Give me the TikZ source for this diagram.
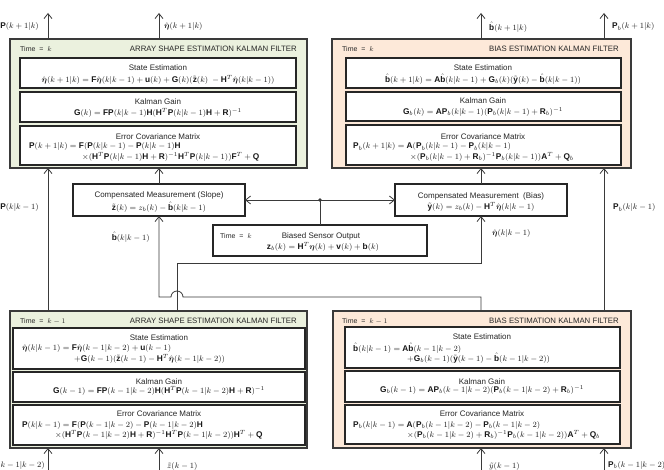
\documentclass[tikz,border=0pt]{standalone}
\usepackage{fontspec}
\setmainfont{Liberation Sans}
\usepackage{amsmath}
\usetikzlibrary{arrows.meta}
\definecolor{pgreen}{HTML}{EBF1DE}
\definecolor{porange}{HTML}{FDE9D9}
\definecolor{lc}{HTML}{3A3A3A}
\newcommand\hEta{\hat{\boldsymbol{\eta}}}
\newcommand\hB{\hat{\mathbf{b}}}
\newcommand\tZ{\tilde{\mathbf{z}}}
\newcommand\tY{\tilde{\mathbf{y}}}
\newcommand\bfm[1]{\mathbf{#1}}
\newcommand\mkbox[6]{\node[#6, minimum width={(#4)-(#2)}, minimum height={(#5)-(#3)}] (#1) at (#2,-#3) {};}
\begin{document}
\begin{tikzpicture}[x=1pt,y=1pt,
 panel/.style={draw=lc, line width=1.2pt, anchor=north west, inner sep=0pt, outer sep=0pt},
 ibox/.style={draw=black!85, line width=1.2pt, fill=white, anchor=north west, inner sep=0pt, outer sep=0pt},
 txt/.style={inner sep=0pt, font=\fontsize{8}{9}\selectfont, text=black!85},
 ttl/.style={inner sep=0pt, font=\fontsize{7.8}{9}\selectfont, text=black!85},
 tim/.style={inner sep=0pt, font=\fontsize{7}{8}\selectfont, text=black!85},
 mth/.style={inner sep=0pt, font=\fontsize{8.3}{10}\selectfont, text=black!90},
 conn/.style={draw=lc, line width=0.8pt},
 arr/.style={conn, -{Straight Barb[length=5pt,width=8pt]}},
]
\useasboundingbox (0,0) rectangle (664,-470);
\fill[white] (0,0) rectangle (664,-470);

% ---------- panels ----------
\mkbox{TL}{10}{39}{307}{168}{panel, fill=pgreen}
\mkbox{TR}{332}{39}{631}{168}{panel, fill=porange}
\mkbox{BL}{10}{311}{307}{448}{panel, fill=pgreen}
\mkbox{BR}{333}{311}{631}{448}{panel, fill=porange}

% inner boxes top-left
\mkbox{TLs}{20}{58}{296}{88}{ibox}
\mkbox{TLg}{20}{92}{296}{122}{ibox}
\mkbox{TLe}{20}{126}{296}{165}{ibox}
% inner boxes top-right
\mkbox{TRs}{346}{58}{621}{88}{ibox}
\mkbox{TRg}{346}{92}{621}{121}{ibox}
\mkbox{TRe}{346}{125}{621}{165}{ibox}
% inner boxes bottom-left
\mkbox{BLs}{13}{328}{305}{369}{ibox}
\mkbox{BLg}{13}{372}{305}{402}{ibox}
\mkbox{BLe}{13}{405}{305}{445}{ibox}
% inner boxes bottom-right
\mkbox{BRs}{345}{327}{620}{368}{ibox}
\mkbox{BRg}{345}{371}{620}{402}{ibox}
\mkbox{BRe}{345}{405}{620}{444}{ibox}
% middle boxes
\mkbox{SL}{73}{184}{245}{216}{ibox}
\mkbox{BI}{395}{184}{567}{216}{ibox}
\mkbox{SE}{213}{225}{427}{256}{ibox}

% ---------- panel titles ----------
\node[tim, anchor=west] (tTL) at (20,-49) {Time \ = \ $k$};
\node[ttl, anchor=east] (hTL) at (297,-49) {ARRAY SHAPE ESTIMATION KALMAN FILTER};
\node[tim, anchor=west] (tTR) at (342,-49) {Time \ = \ $k$};
\node[ttl, anchor=east] (hTR) at (619,-49) {BIAS ESTIMATION KALMAN FILTER};
\node[tim, anchor=west] (tBL) at (20,-321) {Time \ = \ $k-1$};
\node[ttl, anchor=east] (hBL) at (297,-321) {ARRAY SHAPE ESTIMATION KALMAN FILTER};
\node[tim, anchor=west] (tBR) at (342,-321) {Time \ = \ $k-1$};
\node[ttl, anchor=east] (hBR) at (619,-321) {BIAS ESTIMATION KALMAN FILTER};

% ---------- top-left contents ----------
\node[txt] (a1) at (158,-68) {State Estimation};
\node[mth] (a2) at (158,-80) {$\hEta(k+1|k)=\bfm{F}\hEta(k|k-1)+\bfm{u}(k)+\bfm{G}(k)(\tZ(k)\ -\bfm{H}^T\hEta(k|k-1))$};
\node[txt] (a3) at (158,-102) {Kalman Gain};
\node[mth] (a4) at (158,-113) {$\bfm{G}(k)=\bfm{FP}(k|k-1)\bfm{H}(\bfm{H}^T\bfm{P}(k|k-1)\bfm{H}+\bfm{R})^{-1}$};
\node[txt] (a5) at (158,-137) {Error Covariance Matrix};
\node[mth, anchor=west] (a6) at (29,-147) {$\bfm{P}(k+1|k)=\bfm{F}(\bfm{P}(k|k-1)-\bfm{P}(k|k-1)\bfm{H}$};
\node[mth, anchor=west] (a7) at (82,-157) {$\times(\bfm{H}^T\bfm{P}(k|k-1)\bfm{H}+\bfm{R})^{-1}\bfm{H}^T\bfm{P}(k|k-1))\bfm{F}^T+\bfm{Q}$};

% ---------- top-right contents ----------
\node[txt] (b1) at (483,-68) {State Estimation};
\node[mth] (b2) at (483,-79) {$\hB(k+1|k)=\bfm{A}\hB(k|k-1)+\bfm{G}_b(k)(\tY(k)-\hB(k|k-1))$};
\node[txt] (b3) at (483,-101) {Kalman Gain};
\node[mth] (b4) at (483,-112) {$\bfm{G}_b(k)=\bfm{AP}_b(k|k-1)(\bfm{P}_b(k|k-1)+\bfm{R}_b)^{-1}$};
\node[txt] (b5) at (483,-137) {Error Covariance Matrix};
\node[mth, anchor=west] (b6) at (353,-147) {$\bfm{P}_b(k+1|k)=\bfm{A}(\bfm{P}_b(k|k-1)-\bfm{P}_b(k|k-1)$};
\node[mth, anchor=west] (b7) at (410,-157) {$\times(\bfm{P}_b(k|k-1)+\bfm{R}_b)^{-1}\bfm{P}_b(k|k-1))\bfm{A}^T+\bfm{Q}_b$};

% ---------- bottom-left contents ----------
\node[txt] (c1) at (159,-338) {State Estimation};
\node[mth, anchor=west] (c2) at (22,-349) {$\hEta(k|k-1)=\bfm{F}\hEta(k-1|k-2)+\bfm{u}(k-1)$};
\node[mth, anchor=west] (c3) at (74,-359) {$+\bfm{G}(k-1)(\tZ(k-1)-\bfm{H}^T\hEta(k-1|k-2))$};
\node[txt] (c4) at (159,-382) {Kalman Gain};
\node[mth] (c5) at (159,-391) {$\bfm{G}(k-1)=\bfm{FP}(k-1|k-2)\bfm{H}(\bfm{H}^T\bfm{P}(k-1|k-2)\bfm{H}+\bfm{R})^{-1}$};
\node[txt] (c6) at (159,-414) {Error Covariance Matrix};
\node[mth, anchor=west] (c7) at (22,-425) {$\bfm{P}(k|k-1)=\bfm{F}(\bfm{P}(k-1|k-2)-\bfm{P}(k-1|k-2)\bfm{H}$};
\node[mth, anchor=west] (c8) at (55,-435) {$\times(\bfm{H}^T\bfm{P}(k-1|k-2)\bfm{H}+\bfm{R})^{-1}\bfm{H}^T\bfm{P}(k-1|k-2))\bfm{H}^T+\bfm{Q}$};

% ---------- bottom-right contents ----------
\node[txt] (d1) at (482,-337) {State Estimation};
\node[mth, anchor=west] (d2) at (353,-348) {$\hB(k|k-1)=\bfm{A}\hB(k-1|k-2)$};
\node[mth, anchor=west] (d3) at (407,-358) {$+\bfm{G}_b(k-1)(\tY(k-1)-\hB(k-1|k-2))$};
\node[txt] (d4) at (482,-382) {Kalman Gain};
\node[mth] (d5) at (482,-390) {$\bfm{G}_b(k-1)=\bfm{AP}_b(k-1|k-2)(\bfm{P}_b(k-1|k-2)+\bfm{R}_b)^{-1}$};
\node[txt] (d6) at (482,-414) {Error Covariance Matrix};
\node[mth, anchor=west] (d7) at (353,-425) {$\bfm{P}_b(k|k-1)=\bfm{A}(\bfm{P}_b(k-1|k-2)-\bfm{P}_b(k-1|k-2)$};
\node[mth, anchor=west] (d8) at (407,-435) {$\times(\bfm{P}_b(k-1|k-2)+\bfm{R}_b)^{-1}\bfm{P}_b(k-1|k-2))\bfm{A}^T+\bfm{Q}_b$};

% ---------- middle contents ----------
\node[txt] (e1) at (159,-195) {Compensated Measurement (Slope)};
\node[mth] (e2) at (159,-207) {$\tZ(k)=z_b(k)-\hB(k|k-1)$};
\node[txt] (f1) at (481,-196) {Compensated Measurement \ (Bias)};
\node[mth] (f2) at (481,-207) {$\tY(k)=z_b(k)-\bfm{H}^T\hEta(k|k-1)$};
\node[tim, anchor=west] (g0) at (220,-236) {Time \ = \ $k$};
\node[txt] (g1) at (321,-236) {Biased Sensor Output};
\node[mth] (g2) at (323,-247) {$\bfm{z}_b(k)=\bfm{H}^T\boldsymbol{\eta}(k)+\bfm{v}(k)+\bfm{b}(k)$};

% ---------- coordinates ----------
\coordinate (xP) at (48,0);
\coordinate (xE) at (159,0);
\coordinate (xH) at (177,0);
\coordinate (xB) at (481,0);
\coordinate (xQ) at (604,0);
\coordinate (yTop) at (0,-13);
\coordinate (yBot) at (0,-470);
\coordinate (yH) at (0,-263);
\coordinate (yJ) at (0,-297);
\coordinate (dot) at (SE.north |- SL.east);
\coordinate (jR) at (183,-297);

% ---------- connectors ----------
% outputs at top
\draw[arr] (TL.north -| xP) -- (xP |- yTop);
\draw[arr] (TL.north -| xE) -- (xE |- yTop);
\draw[arr] (TR.north -| xB) -- (xB |- yTop);
\draw[arr] (TR.north -| xQ) -- (xQ |- yTop);
% feedback into top panels
\draw[arr] (BL.north -| xP) -- (TL.south -| xP);
\draw[arr] (SL.north) -- (TL.south -| SL.north);
\draw[arr] (BI.north) -- (TR.south -| BI.north);
\draw[arr] (BR.north -| xQ) -- (TR.south -| xQ);
% sensor distribution
\draw[conn] (SE.north) -- (dot);
\draw[arr] (dot) -- (SL.east);
\draw[arr] (dot) -- (BI.west);
\fill[lc] (dot) circle (1.8);
% eta-hat to bias measurement
\draw[arr] (BL.north -| xH) |- (BI.south |- yH) -- (BI.south);
% b-hat to slope measurement (with jump)
\draw[arr] (BR.north -| xB) |- (jR) arc[start angle=0,end angle=180,radius=6] -- (SL.south |- yJ) -- (SL.south);
% inputs at bottom
\draw[arr] (xP |- yBot) -- (BL.south -| xP);
\draw[arr] (xE |- yBot) -- (BL.south -| xE);
\draw[arr] (xB |- yBot) -- (BR.south -| xB);
\draw[arr] (xQ |- yBot) -- (BR.south -| xQ);

% ---------- connector labels ----------
\node[mth, anchor=east] (l1) at (39,-27) {$\bfm{P}(k+1|k)$};
\node[mth, anchor=west] (l2) at (164,-27) {$\hEta(k+1|k)$};
\node[mth, anchor=west] (l3) at (489,-27) {$\hB(k+1|k)$};
\node[mth, anchor=west] (l4) at (612,-27) {$\bfm{P}_b(k+1|k)$};
\node[mth, anchor=east] (l5) at (39,-208) {$\bfm{P}(k|k-1)$};
\node[mth, anchor=east] (l6) at (150,-237) {$\hB(k|k-1)$};
\node[mth, anchor=west] (l7) at (492,-234) {$\hEta(k|k-1)$};
\node[mth, anchor=west] (l8) at (613,-208) {$\bfm{P}_b(k|k-1)$};
\node[mth, anchor=east] (l9) at (45,-465) {$\bfm{P}(k-1|k-2)$};
\node[mth, anchor=west] (l10) at (167,-466) {$\tilde{z}(k-1)$};
\node[mth, anchor=west] (l11) at (489,-466) {$\tilde{y}(k-1)$};
\node[mth, anchor=west] (l12) at (608,-465) {$\bfm{P}_b(k-1|k-2)$};
\end{tikzpicture}
\end{document}
